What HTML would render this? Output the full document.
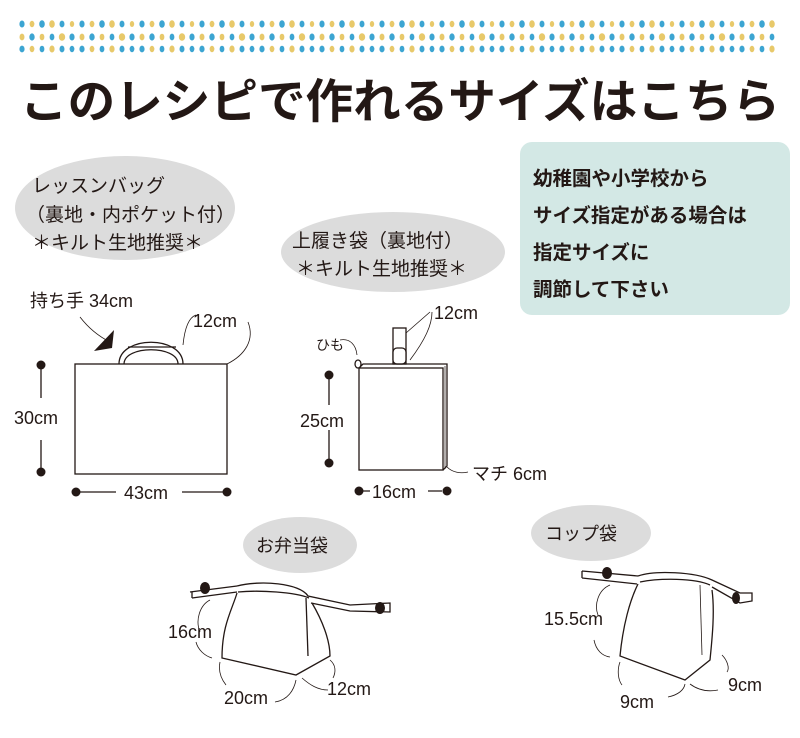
<!DOCTYPE html>
<html><head><meta charset="utf-8"><style>
html,body{margin:0;padding:0;background:#fff;}
svg{display:block;}
text{font-family:"Liberation Sans","Noto Sans CJK JP",sans-serif;fill:#231815;}
</style></head><body>
<svg width="800" height="738" viewBox="0 0 800 738" xmlns="http://www.w3.org/2000/svg">
<defs>
<pattern id="dp" patternUnits="userSpaceOnUse" x="17" y="18" width="60" height="40">
<ellipse cx="5" cy="6" rx="2.6" ry="3.5" fill="#3ca5d2"/>
<ellipse cx="15" cy="6" rx="2.4" ry="3.2" fill="#e8c96a"/>
<ellipse cx="25" cy="6" rx="2.8" ry="3.7" fill="#3ca5d2"/>
<ellipse cx="35" cy="6" rx="2.8" ry="3.8" fill="#e8c96a"/>
<ellipse cx="45" cy="6" rx="2.5" ry="3.4" fill="#3ca5d2"/>
<ellipse cx="55" cy="6" rx="2.2" ry="3" fill="#e8c96a"/>
<ellipse cx="5" cy="19" rx="2.5" ry="3.4" fill="#e8c96a"/>
<ellipse cx="15" cy="19" rx="2.7" ry="3.6" fill="#3ca5d2"/>
<ellipse cx="25" cy="19" rx="2.4" ry="3.3" fill="#e8c96a"/>
<ellipse cx="35" cy="19" rx="2.4" ry="3.4" fill="#3ca5d2"/>
<ellipse cx="45" cy="19" rx="3.2" ry="3.8" fill="#e8c96a"/>
<ellipse cx="55" cy="19" rx="2.6" ry="3.5" fill="#3ca5d2"/>
<ellipse cx="5" cy="31" rx="2.6" ry="3.4" fill="#3ca5d2"/>
<ellipse cx="15" cy="31" rx="2.4" ry="3.2" fill="#e8c96a"/>
<ellipse cx="25" cy="31" rx="2.4" ry="3.3" fill="#3ca5d2"/>
<ellipse cx="35" cy="31" rx="2.6" ry="3.5" fill="#e8c96a"/>
<ellipse cx="45" cy="31" rx="2.5" ry="3.4" fill="#3ca5d2"/>
<ellipse cx="55" cy="31" rx="2.4" ry="3.2" fill="#3ca5d2"/>
</pattern>
</defs>
<rect x="17" y="18" width="758" height="38" fill="url(#dp)"/>
<text x="400" y="118" text-anchor="middle" font-size="47" font-weight="bold" textLength="760" lengthAdjust="spacingAndGlyphs">このレシピで作れるサイズはこちら</text>

<rect x="520" y="142" width="270" height="173" rx="12" fill="#d3e8e5"/>
<g font-size="19.5" font-weight="bold">
<text x="533" y="185">幼稚園や小学校から</text>
<text x="533" y="222">サイズ指定がある場合は</text>
<text x="533" y="259">指定サイズに</text>
<text x="533" y="296">調節して下さい</text>
</g>

<ellipse cx="125" cy="208" rx="110" ry="52" fill="#dcdcdc"/>
<g font-size="19">
<text x="32" y="192">レッスンバッグ</text>
<text x="26" y="221">（裏地・内ポケット付）</text>
<text x="32" y="249">＊キルト生地推奨＊</text>
</g>
<ellipse cx="393" cy="252" rx="112" ry="40" fill="#dcdcdc"/>
<g font-size="19">
<text x="292" y="247">上履き袋（裏地付）</text>
<text x="296" y="275">＊キルト生地推奨＊</text>
</g>

<g stroke="#231815" fill="none" stroke-width="1.3">
<rect x="75" y="364" width="152" height="110" fill="#fff"/>
<path d="M119 364 C119 335 183 335 183 364"/>
<path d="M124 364 C124 345 178 345 178 364"/>
<path d="M128 347 L176 347"/>
<path d="M41 365 V398 M41 440 V472"/>
<path d="M80 492 H116 M182 492 H226"/>
<path d="M183 345 C185 325 190 317 196 315" stroke-width="0.8"/>
<path d="M227 364 C245 355 255 340 248 322" stroke-width="0.8"/>
<path d="M80 317 C90 330 100 337 110 342" stroke-width="0.8"/>
<rect x="393" y="328" width="13" height="36" fill="#fff"/>
<rect x="393" y="348" width="13" height="16" rx="4" fill="#fff"/>
<path d="M359 368 L363 364 L447 364 L447 466 L443 470"/>
<rect x="359" y="368" width="84" height="102" fill="#fff"/>
<path d="M445 366 V469" stroke-width="0.7"/>
<ellipse cx="358" cy="364" rx="3" ry="4" fill="#fff"/>
<path d="M406 333 L430 312 M410 360 C425 340 432 325 432 312" stroke-width="0.8"/>
<path d="M340 340 C350 338 356 345 357 355" stroke-width="0.8"/>
<path d="M329 378 V405 M329 430 V460"/>
<path d="M362 491 H370 M428 491 H442"/>
<path d="M447 467 C452 472 460 474 468 472" stroke-width="0.8"/>

<path d="M190 592 L237 586 M192 598 L237 592" />
<path d="M192 592 L192 598"/>
<path d="M237 586 C260 580 300 583 308 596 L350 605 L390 603 L390 612 L350 611 L311 603"/>
<path d="M238 592 C260 590 295 592 309 598"/>
<path d="M237 593 C232 610 222 625 222 658 L296 675 L330 656 C330 640 322 620 312 603"/>
<path d="M306 598 L308 656"/>
<path d="M210 600 C200 605 195 620 200 632 M196 642 C198 650 205 656 212 658" stroke-width="0.8"/>
<path d="M220 662 C218 672 222 680 226 685 M296 680 C294 690 288 700 275 702" stroke-width="0.8"/>
<path d="M302 678 C310 685 318 690 328 690 M330 660 C336 665 336 672 333 678" stroke-width="0.8"/>

<path d="M582 571 L638 576 M582 578 L637 584 M582 571 V578"/>
<path d="M638 576 C655 570 695 572 712 580 L740 593 L752 593 L752 601 L740 603 L712 587"/>
<path d="M640 582 C660 578 695 578 710 585"/>
<path d="M638 584 C630 600 623 625 620 656 L685 680 L710 660 C712 640 715 612 712 590"/>
<path d="M700 585 L702 655" stroke-width="0.8"/>
<path d="M610 585 C598 590 594 605 598 615 M594 640 C596 650 602 656 610 657" stroke-width="0.8"/>
<path d="M620 662 C617 670 618 680 622 685 M685 684 C684 690 678 695 668 697" stroke-width="0.8"/>
<path d="M690 684 C698 690 708 692 718 690 M722 655 C727 660 730 668 727 672" stroke-width="0.8"/>
</g>
<polygon points="94,351 114,330 112,348" fill="#231815"/>
<g fill="#231815">
<circle cx="41" cy="365" r="4.5"/><circle cx="41" cy="472" r="4.5"/>
<circle cx="76" cy="492" r="4.5"/><circle cx="227" cy="492" r="4.5"/>
<circle cx="329" cy="375" r="4.5"/><circle cx="329" cy="463" r="4.5"/>
<circle cx="359" cy="491" r="4.5"/><circle cx="447" cy="491" r="4.5"/>
<ellipse cx="205" cy="588" rx="5" ry="6"/>
<ellipse cx="380" cy="608" rx="5" ry="6"/>
<ellipse cx="607" cy="573" rx="5" ry="6"/>
<ellipse cx="736" cy="598" rx="4" ry="6"/>
</g>
<g font-size="18">
<text x="30" y="307">持ち手 34cm</text>
<text x="193" y="327">12cm</text>
<text x="14" y="424">30cm</text>
<text x="124" y="499">43cm</text>
<text x="316" y="350" font-size="14">ひも</text>
<text x="434" y="319">12cm</text>
<text x="300" y="427">25cm</text>
<text x="372" y="498">16cm</text>
<text x="472" y="480">マチ 6cm</text>
</g>
<ellipse cx="300" cy="545" rx="57" ry="28" fill="#dcdcdc"/>
<text x="256" y="552" font-size="18">お弁当袋</text>
<ellipse cx="591" cy="533" rx="60" ry="28" fill="#dcdcdc"/>
<text x="545" y="540" font-size="18">コップ袋</text>
<g font-size="18">
<text x="168" y="638">16cm</text>
<text x="224" y="704">20cm</text>
<text x="327" y="695">12cm</text>
<text x="544" y="625">15.5cm</text>
<text x="620" y="708">9cm</text>
<text x="728" y="691">9cm</text>
</g>
</svg>
</body></html>
